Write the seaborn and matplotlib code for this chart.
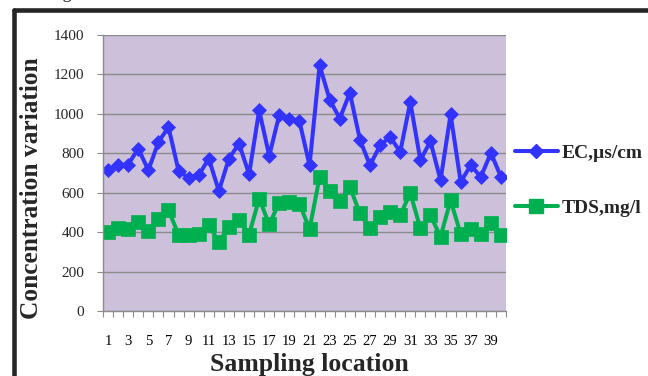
import numpy as np
import pandas as pd
import matplotlib
matplotlib.use("Agg")
import matplotlib.pyplot as plt
import seaborn as sns
from matplotlib.lines import Line2D

# ---- data ----
locations = list(range(1, 41))
ec_values = [714, 739, 743, 824, 714, 857, 933, 711, 675, 689,
             773, 609, 773, 849, 694, 1018, 787, 996, 976, 962,
             739, 1246, 1072, 976, 1107, 869, 739, 840, 883, 807,
             1060, 765, 861, 663, 997, 655, 739, 680, 802, 680]
tds_values = [402, 419, 415, 452, 407, 469, 511, 388, 385, 390,
              435, 351, 424, 461, 388, 570, 439, 550, 555, 545,
              415, 680, 608, 557, 630, 495, 419, 478, 503, 486,
              599, 419, 486, 376, 562, 390, 414, 390, 447, 385]
series_names = ["EC,\u00b5s/cm", "TDS,mg/l"]
y_ticks = [0, 200, 400, 600, 800, 1000, 1200, 1400]
x_tick_labels = [str(i) for i in range(1, 40, 2)]

df = pd.DataFrame({"loc": locations, "EC": ec_values, "TDS": tds_values})

sns.set_theme(style="white")
plt.rcParams["font.family"] = ["Liberation Serif", "DejaVu Serif"]

W, H = 648, 376
fig = plt.figure(figsize=(W / 100, H / 100), dpi=100)
ax = fig.add_axes([103 / W, 1 - 311 / H, (506 - 103) / W, (311 - 35) / H])
ax.set_facecolor("#CCC0DA")

blue = "#3333FF"
green = "#00B050"

sns.lineplot(data=df, x="loc", y="EC", ax=ax, color=blue, linewidth=2.9,
             marker="D", markersize=7, markeredgewidth=0.5, markeredgecolor=blue)
sns.lineplot(data=df, x="loc", y="TDS", ax=ax, color=green, linewidth=2.9,
             marker="s", markersize=10, markeredgewidth=0.5, markeredgecolor=green)

ax.set_xlim(0.5, 40.5)
ax.set_ylim(0, 1400)
ax.set_yticks(y_ticks)
ax.set_yticklabels([str(v) for v in y_ticks], fontsize=11)
ax.yaxis.grid(True, color="#8C8C8C", linewidth=1.0)
ax.set_axisbelow(True)

ax.set_xticks(list(range(1, 40, 2)))
ax.set_xticklabels(x_tick_labels, fontsize=10.5)
ax.set_xticks(np.arange(0.5, 41, 1.0), minor=True)
ax.tick_params(axis="x", which="major", length=0, pad=17, colors="black")
ax.tick_params(axis="x", which="minor", length=4.5, width=0.8, color="#8C8C8C", direction="out", bottom=True)
ax.tick_params(axis="y", which="major", length=4.5, width=0.8, color="#8C8C8C", direction="out", pad=9, left=True)

for s in ["top", "right"]:
    ax.spines[s].set_visible(False)
for s in ["left", "bottom"]:
    ax.spines[s].set_color("#8C8C8C")
    ax.spines[s].set_linewidth(1.0)

ax.set_xlabel("Sampling location", fontsize=18.5, fontweight="bold")
ax.set_ylabel("Concentration variation", fontsize=18.3, fontweight="bold")
ax.xaxis.label.set_va("center")
ax.yaxis.label.set_va("center")
ax.xaxis.set_label_coords((309 - 103) / 403, (311 - 364) / 276)
ax.yaxis.set_label_coords((31 - 103) / 403, (311 - 188) / 276)

handles = [Line2D([], [], color=blue, linewidth=2.9, marker="D", markersize=7),
           Line2D([], [], color=green, linewidth=2.9, marker="s", markersize=10)]
leg = ax.legend(handles, series_names, loc="center left",
                bbox_to_anchor=(515 / W, 1 - 180.5 / H), bbox_transform=fig.transFigure,
                frameon=False, borderpad=0, borderaxespad=0, handlelength=2.2,
                handletextpad=0.2, labelspacing=1.95,
                prop={"family": ["Liberation Serif", "DejaVu Serif"], "weight": "bold", "size": 14})

# frame of the original figure
fig.add_artist(Line2D([14 / W, 14 / W], [0, 1 - 9.5 / H], color="#262626", linewidth=3.3,
                      transform=fig.transFigure, solid_capstyle="round"))
fig.add_artist(Line2D([14 / W, 1.0], [1 - 9.5 / H, 1 - 9.5 / H], color="#262626", linewidth=3.3,
                      transform=fig.transFigure, solid_capstyle="round"))
fig.text(2 / W, 1 + 7 / H, "following C", fontsize=13, ha="left", va="center", color="#222222")

fig.savefig("out.png", dpi=100)
